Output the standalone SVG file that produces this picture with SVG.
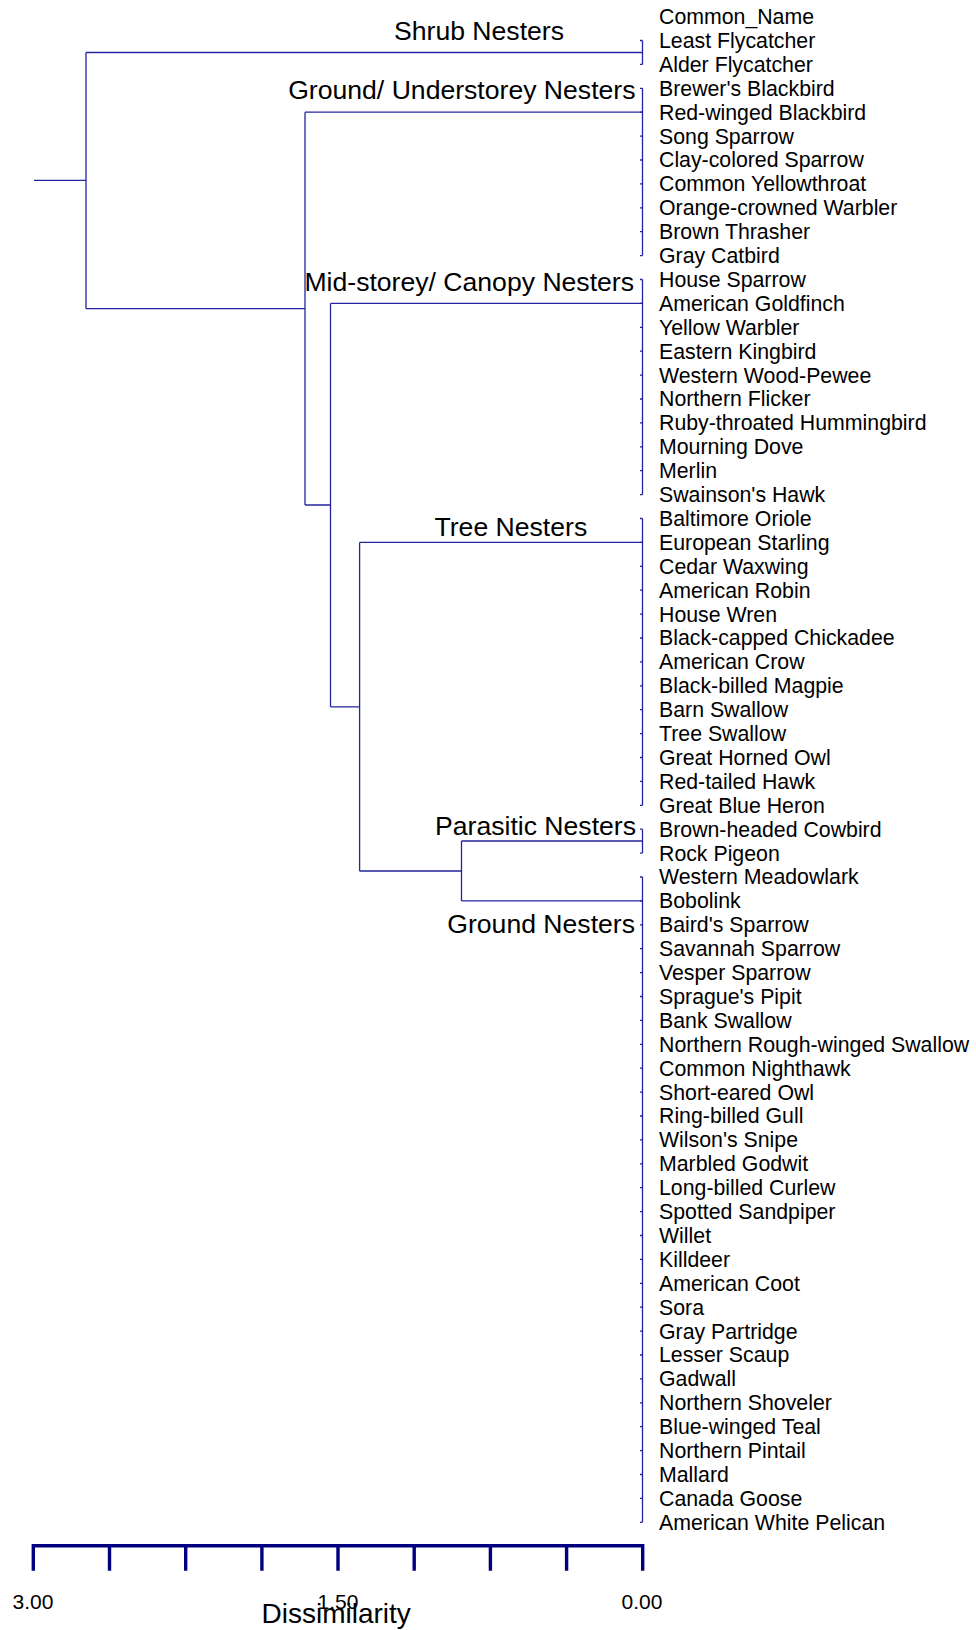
<svg xmlns="http://www.w3.org/2000/svg" width="976" height="1630" viewBox="0 0 976 1630">
<style>
.leaf{font-family:"Liberation Sans",Arial,sans-serif;font-size:21.3px;fill:#000}
.grp{font-family:"Liberation Sans",Arial,sans-serif;font-size:26.6px;fill:#000}
.ax{font-family:"Liberation Sans",Arial,sans-serif;font-size:21px;fill:#000;text-anchor:middle}
.axt{font-family:"Liberation Sans",Arial,sans-serif;font-size:28px;fill:#000}
.ln{fill:none;stroke:#2424a0;stroke-width:1.3}
.axis{fill:none;stroke:#000080;stroke-width:3.4}
</style>
<rect width="976" height="1630" fill="#fff"/>
<g id="connectors" class="ln">
<path d="M34 180.3H86M86 52.5V308.7M86 52.5H642.5M86 308.7H305M305 112.2V505M305 112.2H642.5M305 505H330.5M330.5 303.4V706.8M330.5 303.4H642.5M330.5 706.8H359.6M359.6 542.4V871M359.6 542.4H642.5M359.6 871H461.5M461.5 841V900.9M461.5 841H642.5M461.5 900.9H642.5"/>
<path d="M642.5 40.5V64.4M642.5 88.3V255.6M642.5 279.5V494.6M642.5 518.5V805.3M642.5 829.2V853.1M642.5 877V1522.3"/>
<path d="M640 40.5h2.5M640 64.4h2.5M640 88.3h2.5M640 112.2h2.5M640 136.1h2.5M640 160h2.5M640 183.9h2.5M640 207.8h2.5M640 231.7h2.5M640 255.6h2.5M640 279.5h2.5M640 303.4h2.5M640 327.3h2.5M640 351.2h2.5M640 375.1h2.5M640 399h2.5M640 422.9h2.5M640 446.8h2.5M640 470.7h2.5M640 494.6h2.5M640 518.5h2.5M640 542.4h2.5M640 566.3h2.5M640 590.2h2.5M640 614.1h2.5M640 638h2.5M640 661.9h2.5M640 685.8h2.5M640 709.7h2.5M640 733.6h2.5M640 757.5h2.5M640 781.4h2.5M640 805.3h2.5M640 829.2h2.5M640 853.1h2.5M640 877h2.5M640 900.9h2.5M640 924.8h2.5M640 948.7h2.5M640 972.6h2.5M640 996.5h2.5M640 1020.4h2.5M640 1044.3h2.5M640 1068.2h2.5M640 1092.1h2.5M640 1116h2.5M640 1139.9h2.5M640 1163.8h2.5M640 1187.7h2.5M640 1211.6h2.5M640 1235.5h2.5M640 1259.4h2.5M640 1283.3h2.5M640 1307.2h2.5M640 1331.1h2.5M640 1355h2.5M640 1378.9h2.5M640 1402.8h2.5M640 1426.7h2.5M640 1450.6h2.5M640 1474.5h2.5M640 1498.4h2.5M640 1522.3h2.5"/>
</g>
<g id="header" class="leaf"><text x="659" y="24">Common_Name</text></g>
<g id="shrub-nesters">
<text class="grp" x="394" y="39.5">Shrub Nesters</text>
<g class="leaf">
<text x="659" y="47.9">Least Flycatcher</text>
<text x="659" y="71.8">Alder Flycatcher</text>
</g>
</g>
<g id="ground-understorey-nesters">
<text class="grp" x="635.5" y="99" text-anchor="end">Ground/ Understorey Nesters</text>
<g class="leaf">
<text x="659" y="95.7">Brewer's Blackbird</text>
<text x="659" y="119.6">Red-winged Blackbird</text>
<text x="659" y="143.5">Song Sparrow</text>
<text x="659" y="167.4">Clay-colored Sparrow</text>
<text x="659" y="191.3">Common Yellowthroat</text>
<text x="659" y="215.2">Orange-crowned Warbler</text>
<text x="659" y="239.1">Brown Thrasher</text>
<text x="659" y="263">Gray Catbird</text>
</g>
</g>
<g id="mid-storey-canopy-nesters">
<text class="grp" x="634" y="290.5" text-anchor="end">Mid-storey/ Canopy Nesters</text>
<g class="leaf">
<text x="659" y="286.9">House Sparrow</text>
<text x="659" y="310.8">American Goldfinch</text>
<text x="659" y="334.7">Yellow Warbler</text>
<text x="659" y="358.6">Eastern Kingbird</text>
<text x="659" y="382.5">Western Wood-Pewee</text>
<text x="659" y="406.4">Northern Flicker</text>
<text x="659" y="430.3">Ruby-throated Hummingbird</text>
<text x="659" y="454.2">Mourning Dove</text>
<text x="659" y="478.1">Merlin</text>
<text x="659" y="502">Swainson's Hawk</text>
</g>
</g>
<g id="tree-nesters">
<text class="grp" x="434.5" y="535.5">Tree Nesters</text>
<g class="leaf">
<text x="659" y="525.9">Baltimore Oriole</text>
<text x="659" y="549.8">European Starling</text>
<text x="659" y="573.7">Cedar Waxwing</text>
<text x="659" y="597.6">American Robin</text>
<text x="659" y="621.5">House Wren</text>
<text x="659" y="645.4">Black-capped Chickadee</text>
<text x="659" y="669.3">American Crow</text>
<text x="659" y="693.2">Black-billed Magpie</text>
<text x="659" y="717.1">Barn Swallow</text>
<text x="659" y="741">Tree Swallow</text>
<text x="659" y="764.9">Great Horned Owl</text>
<text x="659" y="788.8">Red-tailed Hawk</text>
<text x="659" y="812.7">Great Blue Heron</text>
</g>
</g>
<g id="parasitic-nesters">
<text class="grp" x="636" y="835" text-anchor="end">Parasitic Nesters</text>
<g class="leaf">
<text x="659" y="836.6">Brown-headed Cowbird</text>
<text x="659" y="860.5">Rock Pigeon</text>
</g>
</g>
<g id="ground-nesters">
<text class="grp" x="635" y="932.5" text-anchor="end">Ground Nesters</text>
<g class="leaf">
<text x="659" y="884.4">Western Meadowlark</text>
<text x="659" y="908.3">Bobolink</text>
<text x="659" y="932.2">Baird's Sparrow</text>
<text x="659" y="956.1">Savannah Sparrow</text>
<text x="659" y="980">Vesper Sparrow</text>
<text x="659" y="1003.9">Sprague's Pipit</text>
<text x="659" y="1027.8">Bank Swallow</text>
<text x="659" y="1051.7">Northern Rough-winged Swallow</text>
<text x="659" y="1075.6">Common Nighthawk</text>
<text x="659" y="1099.5">Short-eared Owl</text>
<text x="659" y="1123.4">Ring-billed Gull</text>
<text x="659" y="1147.3">Wilson's Snipe</text>
<text x="659" y="1171.2">Marbled Godwit</text>
<text x="659" y="1195.1">Long-billed Curlew</text>
<text x="659" y="1219">Spotted Sandpiper</text>
<text x="659" y="1242.9">Willet</text>
<text x="659" y="1266.8">Killdeer</text>
<text x="659" y="1290.7">American Coot</text>
<text x="659" y="1314.6">Sora</text>
<text x="659" y="1338.5">Gray Partridge</text>
<text x="659" y="1362.4">Lesser Scaup</text>
<text x="659" y="1386.3">Gadwall</text>
<text x="659" y="1410.2">Northern Shoveler</text>
<text x="659" y="1434.1">Blue-winged Teal</text>
<text x="659" y="1458">Northern Pintail</text>
<text x="659" y="1481.9">Mallard</text>
<text x="659" y="1505.8">Canada Goose</text>
<text x="659" y="1529.7">American White Pelican</text>
</g>
</g>
<g id="axis">
<path class="axis" d="M33.3 1570.7V1545.7H642.7V1570.7M109.5 1545.7V1570.7M185.7 1545.7V1570.7M261.9 1545.7V1570.7M338 1545.7V1570.7M414.2 1545.7V1570.7M490.4 1545.7V1570.7M566.6 1545.7V1570.7"/>
<text class="ax" x="33" y="1609">3.00</text>
<text class="ax" x="338" y="1609">1.50</text>
<text class="ax" x="642" y="1609">0.00</text>
<text class="axt" x="261.5" y="1623">Dissimilarity</text>
</g>
</svg>
